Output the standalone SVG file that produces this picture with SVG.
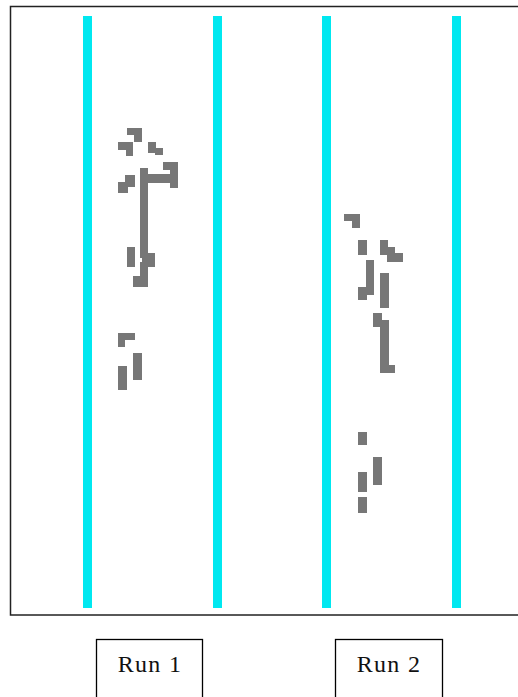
<svg xmlns="http://www.w3.org/2000/svg" width="518" height="697" viewBox="0 0 518 697">
<style>
.lane{fill:#00e8f0}
.px{fill:#777777}
.box{fill:#ffffff;stroke:#000000;stroke-width:1.3}
.lbl{font-family:"Liberation Serif",serif;font-size:24px;fill:#111111;letter-spacing:1.3px}
</style>
<rect x="0" y="0" width="518" height="697" fill="#ffffff"/>
<g id="frame">
<rect x="10.5" y="6.5" width="520" height="608.5" fill="#ffffff" stroke="#222222" stroke-width="1.5"/>
</g>
<g id="lanes">
<rect class="lane" x="83" y="16" width="9" height="592"/>
<rect class="lane" x="213" y="16" width="9" height="592"/>
<rect class="lane" x="322" y="16" width="9" height="592"/>
<rect class="lane" x="452" y="16" width="9" height="592"/>
</g>
<g id="run1-trace">
<rect class="px" x="127" y="128" width="15" height="7"/>
<rect class="px" x="134" y="134" width="8" height="8"/>
<rect class="px" x="118" y="142" width="15" height="8"/>
<rect class="px" x="126" y="149" width="7" height="7"/>
<rect class="px" x="148" y="142" width="8" height="11"/>
<rect class="px" x="155" y="148" width="8" height="7"/>
<rect class="px" x="140" y="168" width="8" height="90"/>
<rect class="px" x="140" y="174" width="32" height="9"/>
<rect class="px" x="163" y="162" width="15" height="8"/>
<rect class="px" x="170" y="162" width="8" height="26"/>
<rect class="px" x="125" y="175" width="10" height="12"/>
<rect class="px" x="118" y="182" width="10" height="11"/>
<rect class="px" x="127" y="247" width="8" height="20"/>
<rect class="px" x="142" y="253" width="13" height="14"/>
<rect class="px" x="140" y="262" width="8" height="25"/>
<rect class="px" x="133" y="276" width="15" height="11"/>
<rect class="px" x="118" y="333" width="17" height="7"/>
<rect class="px" x="118" y="339" width="7" height="8"/>
<rect class="px" x="133" y="353" width="9" height="27"/>
<rect class="px" x="118" y="366" width="9" height="24"/>
</g>
<g id="run2-trace">
<rect class="px" x="344" y="214" width="16" height="7"/>
<rect class="px" x="352" y="220" width="8" height="8"/>
<rect class="px" x="358" y="240" width="9" height="15"/>
<rect class="px" x="380" y="240" width="8" height="15"/>
<rect class="px" x="387" y="247" width="8" height="15"/>
<rect class="px" x="394" y="253" width="9" height="9"/>
<rect class="px" x="366" y="260" width="8" height="35"/>
<rect class="px" x="358" y="287" width="9" height="13"/>
<rect class="px" x="380" y="273" width="9" height="35"/>
<rect class="px" x="373" y="313" width="9" height="14"/>
<rect class="px" x="380" y="320" width="9" height="53"/>
<rect class="px" x="388" y="365" width="7" height="8"/>
<rect class="px" x="358" y="432" width="9" height="13"/>
<rect class="px" x="373" y="457" width="9" height="28"/>
<rect class="px" x="358" y="472" width="9" height="20"/>
<rect class="px" x="358" y="497" width="9" height="16"/>
</g>
<g id="run1">
<rect class="box" x="96.5" y="639.5" width="106" height="70"/>
<text class="lbl" x="150" y="672" text-anchor="middle">Run 1</text>
</g>
<g id="run2">
<rect class="box" x="335.5" y="639.5" width="107" height="70"/>
<text class="lbl" x="389" y="672" text-anchor="middle">Run 2</text>
</g>
</svg>
